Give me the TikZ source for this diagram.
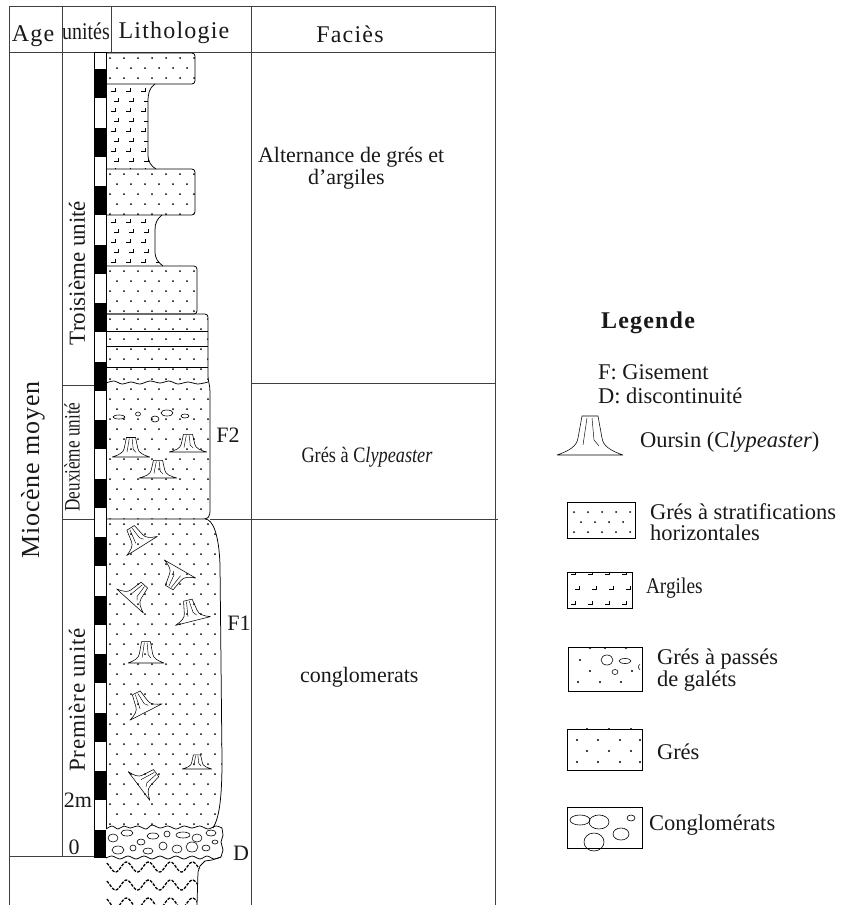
\documentclass[tikz,border=0pt]{standalone}
\usepackage{fontspec}
\setmainfont{Liberation Serif}
\newfontfamily\spfont[LetterSpace=5]{Liberation Serif}
\newfontfamily\spfontb[LetterSpace=3]{Liberation Serif}
\usepackage{graphicx}
\newcommand\myfs[1]{\fontsize{#1}{#1}\selectfont}
% dots pattern: x1 y1 x2 y2
\newcommand\mydots[4]{%
  \pgfmathtruncatemacro\nrows{(#4-#2)/10+1}%
  \pgfmathtruncatemacro\ncols{(#3-#1)/14+1}%
  \foreach \r in {0,...,\nrows}{%
    \foreach \c in {0,...,\ncols}{%
      \fill ({#1+4+14*\c+7*mod(\r,2)},{#2+5+10*\r}) circle (1.0);
    }%
  }%
}
% argile marks
\newcommand\myargile[4]{%
  \pgfmathtruncatemacro\nrows{(#4-#2)/10+1}%
  \pgfmathtruncatemacro\ncols{(#3-#1)/15+1}%
  \foreach \r in {0,...,\nrows}{%
    \foreach \c in {0,...,\ncols}{%
      \draw[line width=0.55pt] ({#1+5+15*\c+3*mod(\r,2)},{#2+7+10*\r}) -- ++(4,0) -- ++(0,-3.5);
    }%
  }%
}
\newcommand\greslayer[4]{%
  \begin{scope}
    \clip (106,#2) -- ({#1-#4},#2) .. controls (#1,#2) .. (#1,{#2+#4}) -- (#1,{#3-#4}) .. controls (#1,#3) .. ({#1-#4},#3) -- (106,#3) -- cycle;
    \mydots{106}{#2}{#1}{#3}
  \end{scope}
  \draw[lay] (106,#2) -- ({#1-#4},#2) .. controls (#1,#2) .. (#1,{#2+#4}) -- (#1,{#3-#4}) .. controls (#1,#3) .. ({#1-#4},#3) -- (106,#3);
}
\tikzset{urchin/.pic={
  \draw[line width=0.55pt, line join=round] (-33,0) -- (33,0)
    (-33,0) .. controls (-21,-4) and (-13,-9) .. (-12,-17) -- (-8,-39) -- (8,-39) -- (12,-17) .. controls (13,-9) and (21,-4) .. (33,0);
  \draw[line width=0.45pt] (-3,-37) -- (-7,-10) (2,-37) -- (4,-15) -- (9,-9);
}}
\begin{document}
\begin{tikzpicture}[x=1pt,y=-1pt,
  tline/.style={line width=0.8pt,draw=black!75},
  lay/.style={line width=0.75pt,draw=black},
  txt/.style={inner sep=0pt,outer sep=0pt,text=black!90},
  peb/.style={line width=0.6pt,draw=black}]
\useasboundingbox (0,0) rectangle (844,905);

% ---------- table lines
\draw[tline] (9,6) -- (495,6);
\draw[tline] (9,52) -- (495,52);
\draw[tline] (9,6) -- (9,905);
\draw[tline] (62,6) -- (62,856);
\draw[tline] (111,6) -- (111,52);
\draw[tline] (251,6) -- (251,905);
\draw[tline] (495,6) -- (495,905);
\draw[tline] (9,856) -- (94,856);
\draw[tline] (62,385) -- (94,385);
\draw[tline] (62,519) -- (94,519);
\draw[tline] (251,383) -- (495,383);
\draw[tline] (210,519) -- (498,519);

% ---------- scale bar
\foreach \k in {0,...,13} {
  \fill (94,{69+58.5*\k}) rectangle (106,{min(98+58.5*\k,857)});
}
\draw[line width=0.7pt] (94,52) rectangle (106,857);

% ---------- lithology
\greslayer{195}{53}{84}{7}
\begin{scope}
  \clip (106,84) -- (155,84) .. controls (149,88) and (148,94) .. (148,102) -- (148,154) .. controls (148,162) and (151,166) .. (156,169) -- (106,169) -- cycle;
  \myargile{106}{84}{156}{169}
\end{scope}
\draw[lay] (155,84) .. controls (149,88) and (148,94) .. (148,102) -- (148,154) .. controls (148,162) and (151,166) .. (156,169);
\greslayer{195}{169}{215}{7}
\begin{scope}
  \clip (106,215) -- (162,215) .. controls (157,219) and (155,223) .. (155,230) -- (155,251) .. controls (155,259) and (158,262) .. (163,266) -- (106,266) -- cycle;
  \myargile{106}{215}{163}{266}
\end{scope}
\draw[lay] (162,215) .. controls (157,219) and (155,223) .. (155,230) -- (155,251) .. controls (155,259) and (158,262) .. (163,266);
\greslayer{197}{266}{314}{7}

% layers 6 + 7
\begin{scope}
  \clip (106,314) -- (201,314) .. controls (208,314) .. (208,321) -- (208,376) .. controls (208,381) and (210,385) .. (210,392) -- (210,510) .. controls (210,517) and (208,519) .. (203,519) -- (106,519) -- cycle;
  \mydots{106}{314}{210}{519}
\end{scope}
\draw[lay] (106,314) -- (201,314) .. controls (208,314) .. (208,321) -- (208,376) .. controls (208,381) and (210,385) .. (210,392) -- (210,510) .. controls (210,517) and (208,519) .. (203,519) -- (106,519);
\draw[lay] (106,331) -- (208,331) (106,346) -- (208,346) (106,367) -- (208,367);
\draw[lay] plot[smooth] coordinates {(106,383) (114,381) (122,384) (131,382) (140,384) (150,381) (160,383) (169,381) (178,384) (188,382) (198,384) (208,382)};
% pebbles layer 7
\draw[peb] (119,417) ellipse [x radius=6, y radius=2];
\draw[peb] (138,414) ellipse [x radius=2.5, y radius=2];
\draw[peb] (155,419) ellipse [x radius=4, y radius=3];
\draw[peb] (167,413) ellipse [x radius=6, y radius=3];
\draw[peb] (185,416) ellipse [x radius=4, y radius=2];
% urchins layer 7
\pic[xscale=0.57,yscale=0.5] at (131,457) {urchin};
\pic[xscale=0.57,yscale=0.45] at (188,452) {urchin};
\pic[xscale=0.57,yscale=0.45] at (158,478) {urchin};

% layer 8
\begin{scope}
  \clip (106,519) -- (205,519) .. controls (213,519) and (219,535) .. (220,565) -- (222,760) .. controls (222,800) and (219,818) .. (213,828) -- (106,828) -- cycle;
  \mydots{106}{519}{222}{828}
\end{scope}
\draw[lay] (205,519) .. controls (213,519) and (219,535) .. (220,565) -- (222,760) .. controls (222,800) and (219,818) .. (213,828);
\pic[scale=0.55,rotate=32] at (142,546) {urchin};
\pic[scale=0.55,rotate=150] at (180,569) {urchin};
\pic[scale=0.55,rotate=-42] at (130,601) {urchin};
\pic[scale=0.55,rotate=14] at (193,621) {urchin};
\pic[scale=0.55] at (146,663) {urchin};
\pic[scale=0.55,rotate=27] at (146,712) {urchin};
\pic[xscale=0.45,yscale=0.36] at (197,769) {urchin};
\pic[scale=0.55,rotate=-53] at (139,786) {urchin};

% layer 9 conglomerate
\fill[white] (106,829) rectangle (222,857);
\draw[lay] plot[smooth] coordinates {(106,829) (112,826) (118,829) (124,826) (130,828) (138,826) (146,829) (152,825) (160,828) (168,826) (176,829) (184,826) (192,828) (200,826) (208,829) (216,826) (222,828)};
\draw[lay] (222,828) -- (223,835) -- (221,842) -- (223,850) -- (221,857);
\draw[lay] plot[smooth] coordinates {(221,857) (214,859) (207,856) (200,859) (192,856) (184,859) (176,856) (168,859) (160,856) (152,859) (144,856) (136,859) (128,856) (120,859) (112,856) (106,858)};
\foreach \ex/\ey/\ea/\eb in {113/838/5/4, 127/833/6/3, 141/842/4/3, 153/836/6/3, 167/834/3/3, 183/835/7/3, 197/838/5/4, 211/833/5/3, 118/850/6/4, 133/848/3/3, 148/851/5/3, 163/846/4/4, 177/849/5/4, 192/847/6/5, 206/848/4/3, 215/842/3/2}{
  \draw[peb] (\ex,\ey) ellipse [x radius=\ea, y radius=\eb];
}

% layer 10 substratum
\begin{scope}
  \clip (106,858) -- (221,857) -- (212,860) -- (205,861) -- (200,866) -- (198,872) -- (197,905) -- (106,905) -- cycle;
  \foreach \yy in {867,885,903} {
    \draw[line width=1.3pt, dash pattern=on 3pt off 1.3pt] plot[domain=100:205, samples=80, smooth] (\x, {\yy + 5*sin((\x/22)*360)});
  }
\end{scope}
\draw[lay] (221,857) -- (212,860) -- (205,861) -- (200,866) -- (198,872) -- (197,905);

% ---------- texts
\node[txt,anchor=base,font=\spfont\myfs{24}] (hAge) at (33,41) {Age};
\node[txt,anchor=base,font=\myfs{24}] (hUnit) at (86,39) {\scalebox{0.83}[1]{unités}};
\node[txt,anchor=base,font=\spfont\myfs{24}] (hLith) at (174,38) {Lithologie};
\node[txt,anchor=base,font=\spfont\myfs{24}] (hFac) at (350,42) {Faciès};

\node[txt,rotate=90,font=\spfontb\myfs{26}] (age) at (33,470) {Miocène moyen};
\node[txt,rotate=90,font=\myfs{23}] (u3) at (77,273) {Troisième unité};
\node[txt,rotate=90,font=\myfs{22}] (u2) at (72,457) {\scalebox{0.78}[1]{Deuxième unité}};
\node[txt,rotate=90,font=\spfontb\myfs{23}] (u1) at (77,700) {Première unité};
\node[txt,font=\myfs{22}] (m2) at (78,800) {2m};
\node[txt,font=\myfs{22}] (m0) at (74,847) {0};

\node[txt,font=\myfs{22}] (f2) at (228,435) {F2};
\node[txt,font=\myfs{22}] (f1) at (239,623) {F1};
\node[txt,font=\myfs{22}] (dd) at (241,853) {D};

\node[txt,anchor=base west,font=\myfs{22}] (fa3a) at (258,162) {Alternance de grés et};
\node[txt,anchor=base west,font=\myfs{22}] (fa3b) at (308,184) {d’argiles};
\node[txt,font=\myfs{22}] (fa2) at (367,457) {\scalebox{0.83}[1]{Grés à C\textit{lypeaster}}};
\node[txt,anchor=west,font=\myfs{22}] (fa1) at (300,677) {conglomerats};

% ---------- legend
\node[txt,font=\spfont\bfseries\myfs{24}] (leg) at (648,323) {Legende};
\node[txt,anchor=west,font=\myfs{22.5}] (lf) at (598,372) {F: Gisement};
\node[txt,anchor=west,font=\myfs{22.5}] (ld) at (598,396) {D: discontinuité};
\pic at (590,455) {urchin};
\node[txt,anchor=west,font=\myfs{22.5}] (lo) at (640,442) {Oursin (C\textit{lypeaster})};

\begin{scope}
  \clip (567,502) rectangle (635,538);
  \mydots{563}{497}{640}{540}
\end{scope}
\draw[lay] (567,502) rectangle (635,538);
\node[txt,anchor=base west,font=\myfs{22.5}] (l1a) at (650,519) {Grés à stratifications};
\node[txt,anchor=base west,font=\myfs{22.5}] (l1b) at (650,540) {horizontales};

\begin{scope}
  \clip (567,572) rectangle (632,608);
  \foreach \ax/\ay in {571/574, 588/574, 605/574, 622/574, 575/589, 592/589, 609/589, 626/589, 571/604, 588/604, 605/604, 622/604}{
    \draw[line width=0.55pt] (\ax,\ay) -- ++(4,0) -- ++(0,-3.5);
  }
\end{scope}
\draw[lay] (567,572) rectangle (632,608);
\node[txt,anchor=west,font=\myfs{22.5}] (l2) at (646,588) {\scalebox{0.86}[1]{Argiles}};

\draw[lay] (568,647) rectangle (642,691);
\foreach \dx/\dy in {580/660, 590/648, 605/648, 626/648, 578/682, 600/682, 621/682, 590/671, 632/671}{
  \fill (\dx,\dy) circle (1.2);
}
\draw[peb] (607,660) ellipse [x radius=6, y radius=5];
\draw[peb] (625,661) ellipse [x radius=6, y radius=2.5];
\draw[peb] (615,672) ellipse [x radius=3, y radius=2.5];
\draw[peb] (640,669.5) arc [start angle=90, end angle=270, x radius=1.5, y radius=2.5];
\node[txt,anchor=base west,font=\myfs{22.5}] (l3a) at (657,664) {Grés à passés};
\node[txt,anchor=base west,font=\myfs{22.5}] (l3b) at (657,686) {de galéts};

\draw[lay] (567,729) rectangle (642,770);
\foreach \dx/\dy in {577/740, 598/740, 620/740, 640/740, 587/751, 609/751, 631/751, 577/762, 598/762, 620/762, 640/762, 587/729, 609/729, 631/729}{
  \fill (\dx,\dy) circle (1.2);
}
\node[txt,anchor=west,font=\myfs{22.5}] (l4) at (657,752) {Grés};

\draw[lay] (567,807) rectangle (642,848);
\draw[peb] (580,820) ellipse [x radius=10, y radius=5];
\draw[peb] (599,822) ellipse [x radius=10, y radius=7];
\draw[peb] (631,818) ellipse [x radius=4, y radius=3];
\draw[peb] (621,834) ellipse [x radius=8, y radius=6];
\draw[peb] (594,842) ellipse [x radius=10, y radius=9];
\node[txt,anchor=west,font=\myfs{22.5}] (l5) at (649,825) {Conglomérats};
\end{tikzpicture}
\end{document}
